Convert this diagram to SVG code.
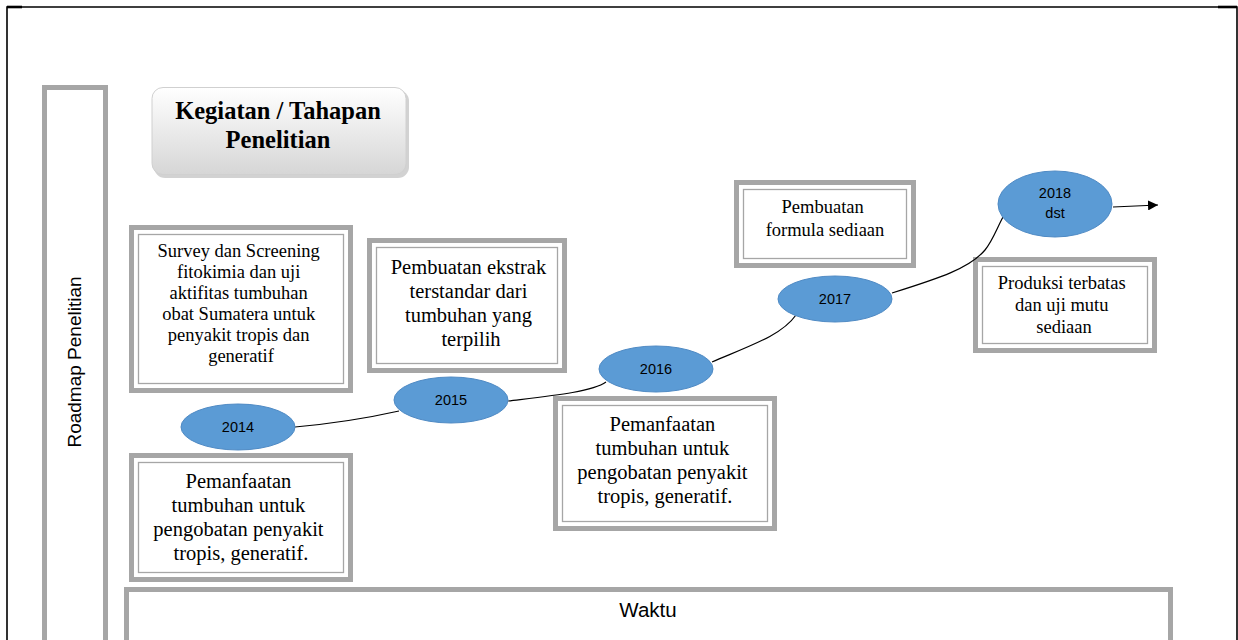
<svg xmlns="http://www.w3.org/2000/svg" width="1238" height="640" viewBox="0 0 1238 640">
<style>
.outer{fill:#fff;stroke:#a6a6a6;stroke-width:5}
.inner{fill:none;stroke:#a6a6a6;stroke-width:1.3}
.ser{font-family:"Liberation Serif","Times New Roman",serif;fill:#000;text-anchor:middle}
.san{font-family:"Liberation Sans",Arial,sans-serif;fill:#000;text-anchor:middle}
.ell{fill:#5b9bd5;stroke:#4f8ac4;stroke-width:1}
.con{fill:none;stroke:#000;stroke-width:1.2}
</style>
<defs>
<linearGradient id="tg" x1="0" y1="0" x2="0" y2="1">
<stop offset="0" stop-color="#ffffff"/>
<stop offset="1" stop-color="#d6d6d6"/>
</linearGradient>
<marker id="ah" viewBox="0 0 10 10" refX="10" refY="5" markerWidth="10" markerHeight="10" markerUnits="userSpaceOnUse" orient="auto">
<path d="M0,0 L10,5 L0,10 z" fill="#000"/>
</marker>
</defs>
<rect width="1238" height="640" fill="#fff"/>
<g id="frame">
<path d="M7,640 L7,7 L1237,7 L1237,640" fill="none" stroke="#000" stroke-width="1.6"/>
<line x1="7" y1="7" x2="22" y2="7" stroke="#000" stroke-width="2.6"/>
<line x1="1218" y1="7" x2="1237" y2="7" stroke="#000" stroke-width="2.6"/>
</g>
<g id="roadmap">
<rect x="44.5" y="87.5" width="61" height="560" fill="#fff" stroke="#a6a6a6" stroke-width="5"/>
<text class="san" font-size="19" transform="translate(81,362) rotate(-90)">Roadmap Penelitian</text>
</g>
<g id="waktu">
<rect x="126.5" y="589.5" width="1044" height="60" fill="#fff" stroke="#a6a6a6" stroke-width="5"/>
<text class="san" x="648" y="617" font-size="20.5">Waktu</text>
</g>
<g id="title">
<rect x="154" y="90" width="255" height="88" rx="11" fill="#bfbfbf" opacity="0.7"/>
<rect x="152" y="87.5" width="254" height="87" rx="11" fill="url(#tg)" stroke="#d0d0d0" stroke-width="1"/>
<text class="ser" x="278" y="119" font-size="24.5" font-weight="bold">Kegiatan / Tahapan</text>
<text class="ser" x="278" y="148" font-size="24.5" font-weight="bold">Penelitian</text>
</g>
<g id="box-survey">
<rect class="outer" x="131.5" y="227.5" width="219" height="163"/>
<rect class="inner" x="138.5" y="234.5" width="205" height="149"/>
<text class="ser" font-size="18.5">
<tspan x="241" y="257">Survey dan Screening</tspan>
<tspan x="241" y="278">fitokimia dan uji</tspan>
<tspan x="241" y="299">aktifitas tumbuhan</tspan>
<tspan x="241" y="320">obat Sumatera untuk</tspan>
<tspan x="241" y="341">penyakit tropis dan</tspan>
<tspan x="241" y="362">generatif</tspan>
</text>
</g>
<g id="box-ekstrak">
<rect class="outer" x="369.5" y="240.5" width="195" height="130"/>
<rect class="inner" x="376.5" y="247.5" width="181" height="116"/>
<text class="ser" font-size="20.5">
<tspan x="471" y="274">Pembuatan ekstrak</tspan>
<tspan x="471" y="298">terstandar dari</tspan>
<tspan x="471" y="322">tumbuhan yang</tspan>
<tspan x="471" y="346">terpilih</tspan>
</text>
</g>
<g id="box-pemanfaatan-1">
<rect class="outer" x="131.5" y="455.5" width="219" height="124"/>
<rect class="inner" x="138.5" y="462.5" width="205" height="110"/>
<text class="ser" font-size="20.5">
<tspan x="241" y="488">Pemanfaatan</tspan>
<tspan x="241" y="512">tumbuhan untuk</tspan>
<tspan x="241" y="536">pengobatan penyakit</tspan>
<tspan x="241" y="560">tropis, generatif.</tspan>
</text>
</g>
<g id="box-pemanfaatan-2">
<rect class="outer" x="555.5" y="398.5" width="219" height="130"/>
<rect class="inner" x="562.5" y="405.5" width="205" height="116"/>
<text class="ser" font-size="20.5">
<tspan x="665" y="431">Pemanfaatan</tspan>
<tspan x="665" y="455">tumbuhan untuk</tspan>
<tspan x="665" y="479">pengobatan penyakit</tspan>
<tspan x="665" y="503">tropis, generatif.</tspan>
</text>
</g>
<g id="box-formula">
<rect class="outer" x="736.5" y="182.5" width="177" height="83"/>
<rect class="inner" x="743.5" y="189.5" width="163" height="69"/>
<text class="ser" font-size="18.5">
<tspan x="825" y="213">Pembuatan</tspan>
<tspan x="825" y="236">formula sediaan</tspan>
</text>
</g>
<g id="box-produksi">
<rect class="outer" x="975.5" y="259.5" width="179" height="91"/>
<rect class="inner" x="982.5" y="266.5" width="165" height="77"/>
<text class="ser" font-size="18.5">
<tspan x="1064" y="289">Produksi terbatas</tspan>
<tspan x="1064" y="311">dan uji mutu</tspan>
<tspan x="1064" y="333">sediaan</tspan>
</text>
</g>
<g id="connectors">
<path class="con" d="M295,427 Q350,422 399,411"/>
<path class="con" d="M508,401 C550,396 592,392 606,382"/>
<path class="con" d="M712,362 C752,345 782,335 796,315"/>
<path class="con" d="M892,293 C940,278 970,268 985,250 C993,240 997,228 1003,217"/>
<line class="con" x1="1113" y1="207" x2="1158" y2="205" marker-end="url(#ah)"/>
</g>
<g id="y2014">
<ellipse class="ell" cx="238" cy="427" rx="57" ry="23"/>
<text class="san" x="238" y="432" font-size="14.5">2014</text>
</g>
<g id="y2015">
<ellipse class="ell" cx="451" cy="400" rx="57" ry="23"/>
<text class="san" x="451" y="405" font-size="14.5">2015</text>
</g>
<g id="y2016">
<ellipse class="ell" cx="656" cy="369" rx="57" ry="23"/>
<text class="san" x="656" y="374" font-size="14.5">2016</text>
</g>
<g id="y2017">
<ellipse class="ell" cx="835" cy="299" rx="57" ry="23"/>
<text class="san" x="835" y="304" font-size="14.5">2017</text>
</g>
<g id="y2018">
<ellipse class="ell" cx="1055" cy="204" rx="57" ry="33"/>
<text class="san" x="1055" y="198" font-size="14.5">2018</text>
<text class="san" x="1055" y="218" font-size="14.5">dst</text>
</g>
</svg>
